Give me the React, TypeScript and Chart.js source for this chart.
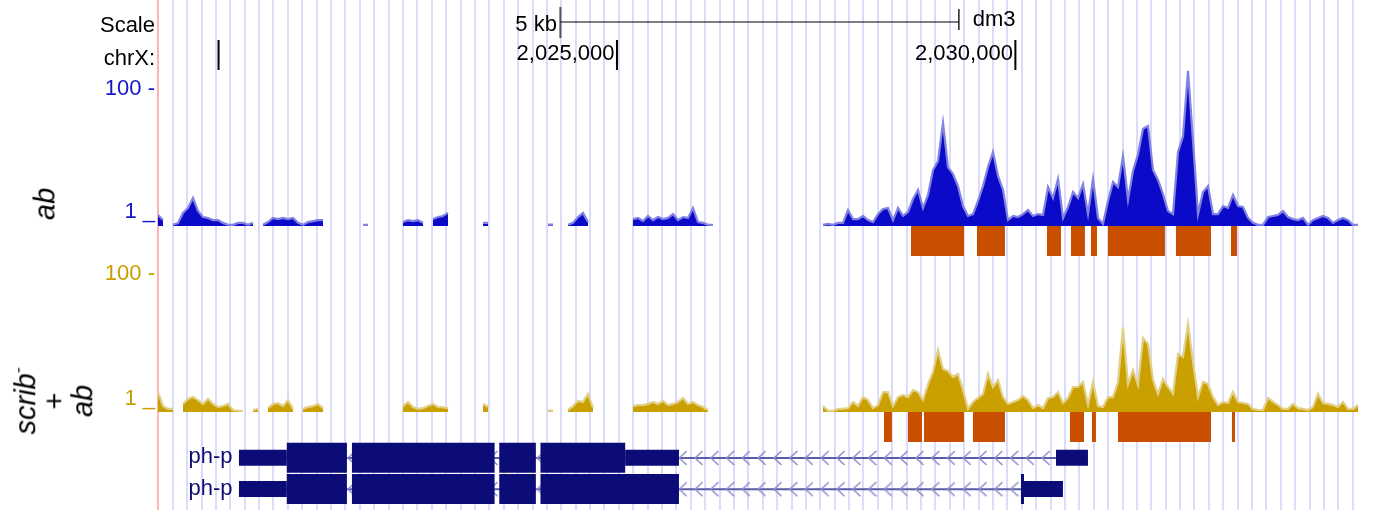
import React, { useEffect, useRef } from "react";
import { Chart, registerables } from "chart.js";

Chart.register(...registerables);

// ---------------- data ----------------
const ASSEMBLY = "dm3";
const CHROM_LABEL = "chrX:";
const VIEW_START = 2019240; // bp at left edge of the data area
const VIEW_END = 2034350; // bp at right edge of the data area
const RULER_TICKS = [2020000, 2025000, 2030000];
const RULER_TICK_LABELS = ["", "2,025,000", "2,030,000"];
const SCALE_BAR = [2024290, 2029290];
const SCALE_BAR_LABEL = "5 kb";
const GUIDE_START = 2019425;
const GUIDE_STEP = 180.6;

// wiggle tracks (fixedStep)
const WIG_START = 2019240;
const WIG_STEP = 62.75;
const N = null;
const TRACK_AB_LABEL = "ab";
const AB_SIGNAL = [
  1.45, 1.22, N, 1.04, 1.1, 1.55, 1.83, 2.55, 1.65, 1.35,
  1.31, 1.22, 1.22, 1.11, 1.04, 1.04, 1.11, 1.11, 1.04, 1.11,
  N, 1.04, 1.14, 1.31, 1.26, 1.31, 1.26, 1.31, 1.11, 1.04,
  1.14, 1.18, 1.22, 1.22, N, N, N, N, N, N,
  N, 1.04, 1.04, N, N, N, N, N, N, 1.14,
  1.22, 1.18, 1.22, 1.11, N, 1.26, 1.35, 1.4, 1.55, N,
  N, N, N, N, N, 1.11, 1.11, N, N, N,
  N, N, N, N, N, N, N, N, 1.05, 1.05,
  N, N, 1.04, 1.11, 1.35, 1.55, 1.14, N, N, N,
  N, N, N, N, N, 1.26, 1.31, 1.18, 1.4, 1.22,
  1.35, 1.26, 1.31, 1.49, 1.22, 1.35, 1.31, 1.83, 1.14, 1.11,
  1.04, 1.04, N, N, N, N, N, N, N, N,
  N, N, N, N, N, N, N, N, N, N,
  N, N, N, 1.04, 1.07, 1.04, 1.11, 1.11, 1.71, 1.26,
  1.26, 1.4, 1.22, 1.14, 1.49, 1.77, 1.83, 1.22, 1.83, 1.4,
  1.6, 2.47, 3.34, 1.83, 2.83, 6.52, 8.82, 31.6, 7.21, 5.71,
  3.82, 1.95, 1.4, 1.49, 2.31, 3.82, 7.21, 11.9, 5.34, 3.34,
  1.22, 1.4, 1.35, 1.49, 1.71, 1.4, 1.49, 1.45, 3.69, 2.55,
  4.83, 1.31, 1.89, 3.12, 2.55, 4.08, 1.49, 4.83, 1.31, 1.07,
  2.31, 4.37, 3.69, 10.4, 2.39, 6.31, 11.1, 26, 28.5, 6.52,
  4.67, 2.92, 1.65, 1.49, 11.9, 20.4, 180, 17.2, 1.49, 3.12,
  3.82, 1.49, 1.49, 1.95, 1.83, 2.83, 1.95, 1.89, 1.31, 1.11,
  1.04, 1.04, 1.35, 1.4, 1.45, 1.65, 1.35, 1.26, 1.22, 1.31,
  1.04, 1.22, 1.31, 1.4, 1.31, 1.11, 1.22, 1.31, 1.22, 1.04,
  1.04,
];
const SCRIB_AB_SIGNAL = [
  1.95, 1.22, 1.11, 1.11, N, 1.31, 1.55, 1.65, 1.49, 1.31,
  1.55, 1.31, 1.18, 1.22, 1.31, 1.07, 1.04, 1.04, N, 1.07,
  1.11, N, 1.14, 1.31, 1.35, 1.22, 1.49, 1.11, N, 1.11,
  1.18, 1.22, 1.31, 1.14, N, N, N, N, N, N,
  N, N, N, N, N, N, N, N, N, 1.22,
  1.4, 1.18, 1.11, 1.14, 1.22, 1.31, 1.18, 1.18, 1.14, N,
  N, N, N, N, N, 1.31, 1.2, N, N, N,
  N, N, N, N, N, N, N, N, 1.05, 1.05,
  N, N, 1.07, 1.22, 1.45, 1.4, 1.83, 1.14, N, N,
  N, N, N, N, N, 1.22, 1.26, 1.26, 1.31, 1.4,
  1.31, 1.45, 1.26, 1.31, 1.4, 1.6, 1.31, 1.4, 1.26, 1.18,
  1.07, N, N, N, N, N, N, N, N, N,
  N, N, N, N, N, N, N, N, N, N,
  N, N, N, 1.22, 1.04, 1.04, 1.11, 1.11, 1.14, 1.4,
  1.22, 1.65, 1.49, 1.14, 1.26, 1.95, 1.95, 1.22, 1.65, 1.77,
  1.65, 2.09, 1.95, 1.49, 2.55, 3.82, 7.97, 4.22, 3.95, 3.23,
  3.57, 2.09, 1.11, 1.4, 1.6, 1.83, 3.57, 2.31, 2.92, 1.65,
  1.31, 1.4, 1.49, 1.71, 1.49, 1.14, 1.26, 1.14, 1.6, 1.65,
  1.95, 1.35, 1.6, 2.31, 2.31, 2.73, 1.26, 2.73, 1.22, 1.18,
  1.65, 1.65, 2.73, 17, 2.55, 4.08, 2.47, 11.9, 9.8, 2.92,
  1.83, 3.02, 2.31, 1.83, 6.97, 6.31, 19.1, 5.34, 1.65, 2.73,
  2.55, 1.65, 1.26, 1.4, 1.35, 1.95, 1.4, 1.35, 1.31, 1.11,
  1.07, 1.07, 1.6, 1.4, 1.26, 1.11, 1.11, 1.31, 1.14, 1.11,
  1.07, 1.18, 1.83, 1.35, 1.31, 1.26, 1.18, 1.4, 1.11, 1.11,
  1.26,
];
const SIGNAL_TOP_LABEL = "100 -";
const SIGNAL_BOTTOM_LABEL = "1 _";

// called peaks
const AB_PEAK_STARTS = [2028690, 2029518, 2030397, 2030698, 2030949, 2031162, 2032015, 2032706];
const AB_PEAK_ENDS = [2029355, 2029869, 2030572, 2030873, 2031024, 2031877, 2032455, 2032781];
const SCRIB_PEAK_STARTS = [2028351, 2028652, 2028853, 2029468, 2030685, 2030961, 2031288, 2032718];
const SCRIB_PEAK_ENDS = [2028451, 2028828, 2029355, 2029869, 2030861, 2031011, 2032455, 2032756];

// gene models (minus strand)
const TX_NAMES = ["ph-p", "ph-p"];
const TX1_EXON_STARTS = [2020256, 2021674, 2023523, 2024040, 2030510];
const TX1_EXON_ENDS = [2021611, 2023464, 2023982, 2025778, 2030911];
const TX1_THICK = [2020856, 2025103];
const TX2_EXON_STARTS = [2020256, 2021674, 2023523, 2024040, 2030070];
const TX2_EXON_ENDS = [2021611, 2023464, 2023982, 2025778, 2030597];
const TX2_THICK = [2020856, 2030108];
const INTRON_ARROW_ANCHOR = 2025782;
const INTRON_ARROW_STEP = 198;

// ---------------- layout / style ----------------
const W = 1373;
const H = 510;
const PLOT_LEFT = 158;
const PLOT_RIGHT = 1362;
const PX_PER_DECADE = 68.75;
const AB_BASE = 226;
const SCRIB_BASE = 412;
const AB_PEAK_Y = 241;
const SCRIB_PEAK_Y = 427;
const TX_Y = [457.7, 488.9];
const FONT = "'Liberation Sans', Arial, Helvetica, sans-serif";
const BLUE = "#0a0ac8";
const BLUE_LIGHT = "#8282e2";
const GOLD = "#c9a000";
const GOLD_LIGHT = "#e2cf88";
const ORANGE = "#c94f00";
const NAVY = "#0c0c78";
const GUIDE = "#dcdcfa";
const PINK = "#ffb3b3";

const BP_PER_PX = (VIEW_END - VIEW_START) / (PLOT_RIGHT - PLOT_LEFT);
const pxOf = (bp: number) => PLOT_LEFT + (bp - VIEW_START) / BP_PER_PX;

const logRange = (base: number) => ({
  min: Math.pow(10, (base - H) / PX_PER_DECADE),
  max: Math.pow(10, base / PX_PER_DECADE),
});

const wig = (vals: (number | null)[]) =>
  vals.map((v, i) => ({ x: WIG_START + i * WIG_STEP, y: v }));

const segs = (starts: number[], ends: number[], y: number) => {
  const out: { x: number; y: number | null }[] = [];
  starts.forEach((s, k) => {
    out.push({ x: s, y }, { x: ends[k], y }, { x: ends[k], y: null });
  });
  return out;
};

function txParts(starts: number[], ends: number[], thick: number[]) {
  const thinS: number[] = [], thinE: number[] = [], thS: number[] = [], thE: number[] = [];
  starts.forEach((s, k) => {
    const e = ends[k];
    if (s < thick[0]) { thinS.push(s); thinE.push(Math.min(e, thick[0])); }
    const a = Math.max(s, thick[0]);
    const b = Math.min(e, thick[1]);
    if (b > a) { thS.push(a); thE.push(b); }
    if (e > thick[1]) { thinS.push(Math.max(s, thick[1])); thinE.push(e); }
  });
  const order = (S: number[], E: number[]) => {
    const idx = S.map((_, i) => i).sort((i, j) => S[i] - S[j]);
    return [idx.map((i) => S[i]), idx.map((i) => E[i])];
  };
  const [tS, tE] = order(thinS, thinE);
  const [kS, kE] = order(thS, thE);
  return { thinS: tS, thinE: tE, thickS: kS, thickE: kE };
}

function lineDs(data: any[], color: string, width: number, order: number, yAxisID = "lanes") {
  return {
    type: "line" as const,
    data,
    yAxisID,
    borderColor: color,
    backgroundColor: color,
    borderWidth: width,
    borderCapStyle: "butt" as const,
    pointRadius: 0,
    tension: 0,
    spanGaps: false,
    fill: false,
    order,
  };
}

function Label(props: { text: React.ReactNode; x: number; y: number; align?: "left" | "right"; color?: string; size?: number }) {
  const { text, x, y, align = "right", color = "#000", size = 22 } = props;
  const style: React.CSSProperties = {
    position: "absolute",
    top: y - size / 2,
    fontSize: size,
    lineHeight: `${size}px`,
    color,
    whiteSpace: "nowrap",
    fontFamily: FONT,
  };
  if (align === "right") style.right = W - x;
  else style.left = x;
  return <div style={style}>{text}</div>;
}

export default function App() {
  const ref = useRef<HTMLCanvasElement | null>(null);

  useEffect(() => {
    if (!ref.current) return;
    const chev = document.createElement("canvas");
    chev.width = 16;
    chev.height = 16;
    const c = chev.getContext("2d")!;
    c.strokeStyle = "#8c8cd0";
    c.lineWidth = 1.5;
    c.beginPath();
    c.moveTo(15.5, 1);
    c.lineTo(8, 8);
    c.lineTo(15.5, 15);
    c.stroke();

    const datasets: any[] = [];

    // signal tracks
    datasets.push({
      ...lineDs(wig(AB_SIGNAL), BLUE_LIGHT, 2.2, 50, "yAb"),
      backgroundColor: BLUE,
      fill: { value: 1 },
    });
    datasets.push({
      ...lineDs(wig(SCRIB_AB_SIGNAL), GOLD_LIGHT, 2.2, 50, "yScrib"),
      backgroundColor: GOLD,
      fill: { value: 1 },
    });

    // peaks
    datasets.push(lineDs(segs(AB_PEAK_STARTS, AB_PEAK_ENDS, AB_PEAK_Y), ORANGE, 30, 40));
    datasets.push(lineDs(segs(SCRIB_PEAK_STARTS, SCRIB_PEAK_ENDS, SCRIB_PEAK_Y), ORANGE, 30, 40));

    // gene models
    const txs = [
      [TX1_EXON_STARTS, TX1_EXON_ENDS, TX1_THICK],
      [TX2_EXON_STARTS, TX2_EXON_ENDS, TX2_THICK],
    ];
    txs.forEach(([S, E, T], r) => {
      const y = TX_Y[r];
      const gStart = S[0];
      const gEnd = E[E.length - 1];
      datasets.push(lineDs([{ x: gStart, y: y + 0.3 }, { x: gEnd, y: y + 0.3 }], "#5a5aa6", 2, 12));
      const arrows: { x: number; y: number }[] = [];
      for (let k = -60; k <= 60; k++) {
        const p = INTRON_ARROW_ANCHOR + k * INTRON_ARROW_STEP;
        if (p > gStart && p < gEnd - 120) arrows.push({ x: p, y: y + 0.3 });
      }
      datasets.push({
        type: "line",
        data: arrows,
        yAxisID: "lanes",
        showLine: false,
        pointStyle: chev,
        pointRadius: 4,
        order: 11,
      });
      const parts = txParts(S, E, T);
      datasets.push(lineDs(segs(parts.thinS, parts.thinE, y), NAVY, 16, 3));
      datasets.push(lineDs(segs(parts.thickS, parts.thickE, y), NAVY, 30, 2));
    });

    // ruler
    const tickPts: any[] = [];
    RULER_TICKS.forEach((t) => tickPts.push({ x: t, y: 40 }, { x: t, y: 70 }, { x: t, y: null }));
    datasets.push(lineDs(tickPts, "#000", 2, 1));
    datasets.push(lineDs([{ x: SCALE_BAR[0], y: 22 }, { x: SCALE_BAR[1], y: 22 }], "#000", 1, 1));
    datasets.push(lineDs([{ x: SCALE_BAR[0], y: 7 }, { x: SCALE_BAR[0], y: 38 }], "#555", 2, 1));
    datasets.push(lineDs([{ x: SCALE_BAR[1], y: 9 }, { x: SCALE_BAR[1], y: 30 }], "#333", 1, 1));

    const abR = logRange(AB_BASE);
    const scR = logRange(SCRIB_BASE);

    const chart = new Chart(ref.current, {
      type: "line",
      data: { datasets },
      options: {
        animation: false,
        responsive: false,
        maintainAspectRatio: false,
        devicePixelRatio: 1,
        events: [],
        layout: { autoPadding: false, padding: { left: PLOT_LEFT, right: W - PLOT_RIGHT, top: 0, bottom: 0 } },
        plugins: { legend: { display: false }, tooltip: { enabled: false } },
        scales: {
          x: {
            type: "linear",
            min: VIEW_START,
            max: VIEW_END,
            bounds: "data",
            display: true,
            ticks: { display: false },
            border: { display: false },
            grid: {
              drawTicks: false,
              lineWidth: 2,
              color: (ctx: any) => (ctx.tick && ctx.tick.value === VIEW_START ? PINK : GUIDE),
            },
            afterBuildTicks: (scale: any) => {
              const t = [{ value: VIEW_START }];
              for (let v = GUIDE_START; v < VIEW_END; v += GUIDE_STEP) t.push({ value: v });
              scale.ticks = t;
            },
          },
          yAb: { type: "logarithmic", display: false, min: abR.min, max: abR.max, bounds: "data" },
          yScrib: { type: "logarithmic", display: false, min: scR.min, max: scR.max, bounds: "data" },
          lanes: { type: "linear", display: false, reverse: true, min: 0, max: H },
        },
      } as any,
    });
    return () => chart.destroy();
  }, []);

  const blueTxt = "#1616c8";
  const goldTxt = "#c9a000";
  const rot: React.CSSProperties = {
    position: "absolute",
    transform: "translate(-50%, -50%) rotate(-90deg)",
    fontFamily: FONT,
    fontSize: 29,
    color: "#000",
    whiteSpace: "nowrap",
    textAlign: "center",
  };

  return (
    <div style={{ position: "absolute", left: 0, top: 0, width: W, height: H, background: "#fff", overflow: "hidden" }}>
      <canvas ref={ref} width={W} height={H} style={{ position: "absolute", left: 0, top: 0, width: W, height: H }} />
      <Label text="Scale" x={155} y={24.5} />
      <Label text={CHROM_LABEL} x={155} y={57.5} />
      <Label text={SCALE_BAR_LABEL} x={pxOf(SCALE_BAR[0]) - 3.5} y={23.5} />
      <Label text={ASSEMBLY} x={pxOf(SCALE_BAR[1]) + 14} y={18.5} align="left" />
      {RULER_TICKS.map((t, i) =>
        RULER_TICK_LABELS[i] ? <Label key={t} text={RULER_TICK_LABELS[i]} x={pxOf(t) - 2.5} y={52.5} /> : null
      )}
      <Label text={SIGNAL_TOP_LABEL} x={155} y={87.5} color={blueTxt} />
      <Label text={SIGNAL_BOTTOM_LABEL} x={155} y={211} color={blueTxt} />
      <Label text={SIGNAL_TOP_LABEL} x={155} y={273} color={goldTxt} />
      <Label text={SIGNAL_BOTTOM_LABEL} x={155} y={397.5} color={goldTxt} />
      <Label text={TX_NAMES[0]} x={232.5} y={456.3} color={NAVY} />
      <Label text={TX_NAMES[1]} x={232.5} y={488} color={NAVY} />
      <div style={{ ...rot, left: 45, top: 204, fontStyle: "italic", lineHeight: "29px" }}>{TRACK_AB_LABEL}</div>
      <div style={{ ...rot, left: 53.5, top: 401, lineHeight: "28.5px" }}>
        <div style={{ fontStyle: "italic" }}>
          scrib<sup style={{ fontSize: "0.6em", lineHeight: 0, verticalAlign: "0.7em" }}>-</sup>
        </div>
        <div>+</div>
        <div style={{ fontStyle: "italic" }}>{TRACK_AB_LABEL}</div>
      </div>
    </div>
  );
}
